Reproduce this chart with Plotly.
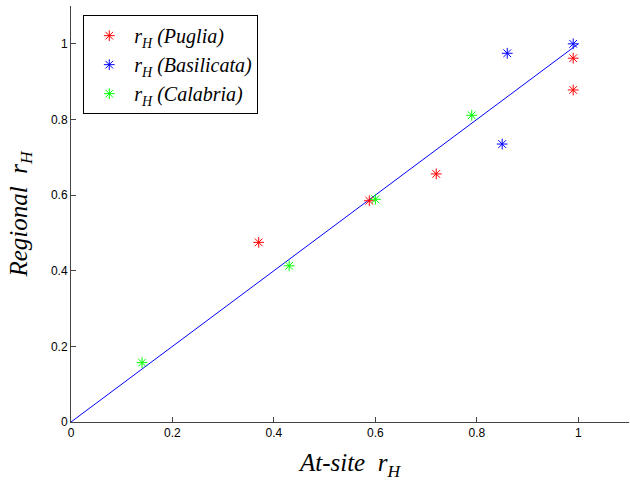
import plotly.graph_objects as go

# At-site vs regional r_H estimates for each region
puglia_x = [0.37, 0.588, 0.72, 0.99, 0.99]
puglia_y = [0.475, 0.585, 0.656, 0.962, 0.878]

basilicata_x = [0.85, 0.86, 0.99]
basilicata_y = [0.735, 0.975, 1.0]

calabria_x = [0.14, 0.43, 0.60, 0.79]
calabria_y = [0.157, 0.413, 0.589, 0.811]

# 1:1 reference line
ref_x = [0, 1]
ref_y = [0, 1]

x_ticks = [0, 0.2, 0.4, 0.6, 0.8, 1]
y_ticks = [0, 0.2, 0.4, 0.6, 0.8, 1]
tick_text = ["0", "0.2", "0.4", "0.6", "0.8", "1"]

serif = "Liberation Serif, Times New Roman, serif"
sans = "Liberation Sans, Arial, sans-serif"

fig = go.Figure()

fig.add_trace(go.Scatter(
    x=ref_x, y=ref_y, mode="lines",
    line=dict(color="#0000ff", width=1),
    showlegend=False, hoverinfo="skip",
))

series = [
    ("Puglia", puglia_x, puglia_y, "#ff0000"),
    ("Basilicata", basilicata_x, basilicata_y, "#0000ff"),
    ("Calabria", calabria_x, calabria_y, "#00ff00"),
]
for name, xs, ys, color in series:
    fig.add_trace(go.Scatter(
        x=xs, y=ys, mode="markers",
        name=f"<i>r<sub>H</sub> ({name})</i>",
        marker=dict(symbol="asterisk-open", size=9, color=color,
                    line=dict(color=color, width=1)),
    ))

axis_common = dict(
    showgrid=False, zeroline=False, showline=True,
    linecolor="#444444", linewidth=1,
    ticks="inside", ticklen=5, tickcolor="#444444",
    tickfont=dict(family=sans, size=12, color="black"),
    mirror=False,
)

fig.update_layout(
    width=630, height=483,
    margin=dict(l=71, r=1, t=6, b=61),
    paper_bgcolor="white", plot_bgcolor="white",
    xaxis=dict(range=[0, 1.1], tickvals=x_ticks, ticktext=tick_text,
               title=dict(text="<i>At-site  r<sub>H</sub></i>",
                          font=dict(family=serif, size=25, color="black"), standoff=14),
               **axis_common),
    yaxis=dict(range=[0, 1.1], tickvals=y_ticks, ticktext=tick_text,
               title=dict(text="<i>Regional  r<sub>H</sub></i>",
                          font=dict(family=serif, size=25, color="black"), standoff=16),
               **axis_common),
    legend=dict(
        x=0.022, y=0.978, xanchor="left", yanchor="top",
        bgcolor="white", bordercolor="black", borderwidth=1,
        font=dict(family=serif, size=20, color="black"),
        itemwidth=40,
    ),
    showlegend=True,
)

fig.write_html("out.html")
